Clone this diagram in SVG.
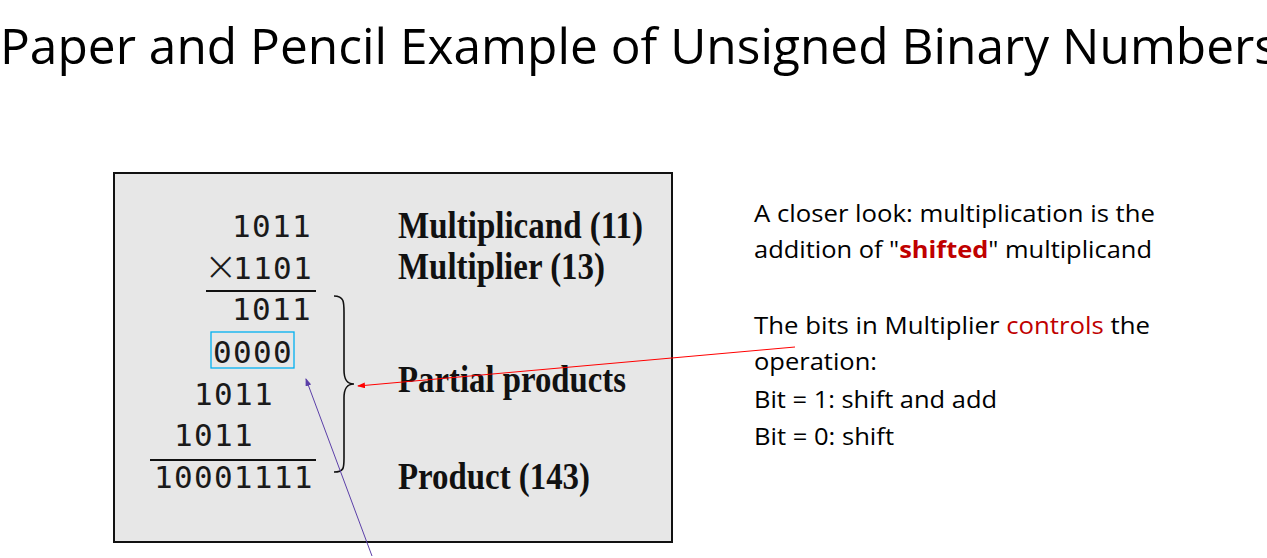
<svg xmlns="http://www.w3.org/2000/svg" width="1267" height="558" viewBox="0 0 1267 558">
<style>
.title{font-family:"Open Sans","Liberation Sans",sans-serif;font-size:50px;fill:#000}
.dig{font-family:"DejaVu Sans Mono",monospace;font-size:31px;fill:#1a1a1a;letter-spacing:1.3px}
.times{font-family:"DejaVu Sans",sans-serif;font-size:40px;font-weight:200;fill:#1a1a1a}
.lbl{font-family:"Liberation Serif",serif;font-weight:bold;font-size:37px;fill:#111}
.note{font-family:"Open Sans","Liberation Sans",sans-serif;font-size:24px;fill:#000}
.red{fill:#c00000}
</style>
<defs>
<marker id="ahRed" markerWidth="8" markerHeight="6" refX="7" refY="3" orient="auto" markerUnits="userSpaceOnUse">
<path d="M0,0 L8,3 L0,6 z" fill="#ff0000"/>
</marker>
<marker id="ahPur" markerWidth="8" markerHeight="6" refX="7" refY="3" orient="auto" markerUnits="userSpaceOnUse">
<path d="M0,0 L8,3 L0,6 z" fill="#5b3fa8"/>
</marker>
</defs>
<rect width="1267" height="558" fill="#fff"/>
<text id="title" class="title" x="0" y="64" textLength="1278" lengthAdjust="spacingAndGlyphs">Paper and Pencil Example of Unsigned Binary Numbers</text>

<g id="panel">
<rect x="114" y="173" width="558" height="369" fill="#e7e7e7" stroke="#111" stroke-width="2"/>
</g>
<g id="calc">
<text class="dig" x="232" y="237">1011</text>
<text class="times" x="204" y="280">×</text>
<text class="dig" x="233" y="279">1101</text>
<line x1="206" y1="291" x2="316" y2="291" stroke="#111" stroke-width="2"/>
<text class="dig" x="232" y="320">1011</text>
<text class="dig" x="213" y="363">0000</text>
<text class="dig" x="194" y="405">1011</text>
<text class="dig" x="174" y="446">1011</text>
<line x1="150" y1="460" x2="316" y2="460" stroke="#111" stroke-width="2"/>
<text class="dig" x="154" y="488">10001111</text>
</g>
<g id="zero-box">
<rect x="211" y="332" width="83" height="36" fill="none" stroke="#00b0f0" stroke-width="1.3"/>
</g>
<g id="brace">
<path d="M334,296 C344,296 344,302 344,312 L344,370 C344,380 347,384 354,384 C347,384 344,388 344,398 L344,458 C344,468 344,472 334,472" fill="none" stroke="#111" stroke-width="1.6"/>
</g>
<g id="labels">
<text class="lbl" x="398" y="238" textLength="245" lengthAdjust="spacingAndGlyphs">Multiplicand (11)</text>
<text class="lbl" x="398" y="279" textLength="207" lengthAdjust="spacingAndGlyphs">Multiplier (13)</text>
<text class="lbl" x="398" y="392" textLength="228" lengthAdjust="spacingAndGlyphs">Partial products</text>
<text class="lbl" x="398" y="489" textLength="192" lengthAdjust="spacingAndGlyphs">Product (143)</text>
</g>
<g id="notes">
<text class="note" x="754" y="222" textLength="401" lengthAdjust="spacingAndGlyphs">A closer look: multiplication is the</text>
<text class="note" x="754" y="258" textLength="398" lengthAdjust="spacingAndGlyphs">addition of "<tspan class="red" font-weight="bold">shifted</tspan>" multiplicand</text>
<text class="note" x="754" y="334" textLength="396" lengthAdjust="spacingAndGlyphs">The bits in Multiplier <tspan class="red">controls</tspan> the</text>
<text class="note" x="754" y="370" textLength="123" lengthAdjust="spacingAndGlyphs">operation:</text>
<text class="note" x="754" y="408" textLength="243" lengthAdjust="spacingAndGlyphs">Bit = 1: shift and add</text>
<text class="note" x="754" y="445" textLength="140" lengthAdjust="spacingAndGlyphs">Bit = 0: shift</text>
</g>
<g id="connectors">
<line x1="795" y1="347" x2="358" y2="386" stroke="#ff0000" stroke-width="1" marker-end="url(#ahRed)"/>
<line x1="372" y1="556" x2="306" y2="379" stroke="#5b3fa8" stroke-width="1" marker-end="url(#ahPur)"/>
</g>
</svg>
